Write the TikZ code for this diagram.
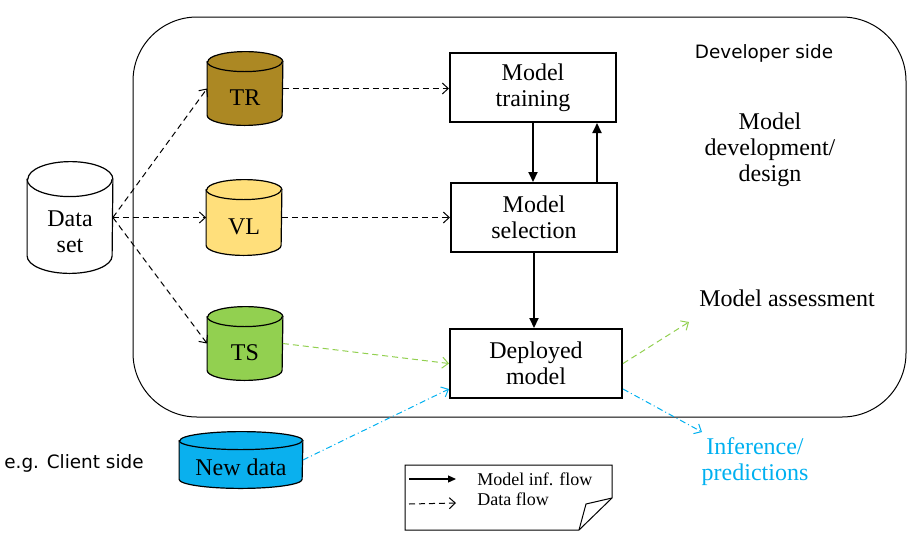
\documentclass[tikz,border=0pt]{standalone}
\usepackage{fontspec}
\setmainfont{Liberation Serif}
\newfontfamily\sidefont{DejaVu Sans}
\usepackage{tikz}
\usetikzlibrary{arrows.meta}
\usepackage{xcolor}
\definecolor{trcol}{HTML}{AC8823}
\definecolor{vlcol}{HTML}{FFDF7B}
\definecolor{tscol}{HTML}{92D050}
\definecolor{newcol}{HTML}{0AB0EE}
\definecolor{infcol}{HTML}{00B0F0}

\begin{document}
\begin{tikzpicture}[x=0.5pt,y=-0.5pt,
		base/.style={inner sep=0pt,minimum width=37.5pt,minimum height=36.5pt},
		txt/.style={font=\fontsize{12}{13}\selectfont,align=center,inner sep=0pt},
		side/.style={txt,font=\sidefont\fontsize{9.2}{11}\selectfont},
		box/.style={txt,draw,line width=1pt,minimum width=83pt,minimum height=34.5pt},
		flow/.style={line width=1pt,-{Triangle[length=5pt,width=4.5pt]}},
		data/.style={line width=0.5pt,dash pattern=on 3pt off 2pt,-{Straight Barb[length=3pt,width=5.5pt]}},
		newflow/.style={line width=0.5pt,infcol,dash pattern=on 3pt off 1.5pt on 0.5pt off 1.5pt,
			-{Straight Barb[length=3pt,width=5.5pt]}}]
			\useasboundingbox (0,0) rectangle (921,542);
			\begin{scope}
				\draw[line width=0.5pt,rounded corners=32pt] (133,17) rectangle (906,417);
				\coordinate (ds) at (70,217.5);
				\coordinate (tr) at (245,88.5);
				\coordinate (vl) at (244,217.5);
				\coordinate (ts) at (245,343.5);
				\coordinate (nd) at (241,460);
				\node[base,minimum width=42.5pt,minimum height=55.5pt] (DS) at (ds) {};
				\node[base] (TR) at (tr) {};
				\node[base,minimum height=37.5pt] (VL) at (vl) {};
				\node[base] (TS) at (ts) {};
				\node[base,minimum width=61.5pt,minimum height=28pt] (ND) at (nd) {};
				\foreach \N/\c/\rx/\ry in {DS/white/21.25pt/8.75pt, TR/trcol/18.75pt/5pt,
					VL/vlcol/18.75pt/5pt, TS/tscol/18.75pt/5pt, ND/newcol/30.75pt/4.5pt}{
					\filldraw[fill=\c,line width=0.6pt] ([yshift=-\ry]\N.north west)
						-- ([yshift=\ry]\N.south west) arc[start angle=180,end angle=360,x radius=\rx,y radius=\ry]
						-- ([yshift=-\ry]\N.north east) arc[start angle=0,end angle=180,x radius=\rx,y radius=\ry]
						-- cycle;
					\draw[line width=0.6pt] ([yshift=-\ry]\N.north west)
						arc[start angle=180,end angle=360,x radius=\rx,y radius=\ry];
				}
				\node[txt] (DSt) at ([yshift=-7pt]DS.center) {Data\\set};
				\foreach \S in {TR,VL,TS}
					\node[txt] (\S t) at ([yshift=-4.5pt]\S.center) {\S};
				\node[txt] (NDt) at ([yshift=-3.5pt]ND.center) {New data};
				%
				\node[box] (train) at (533,87.5) {Model\\training};
				\node[box] (select) at (534,217.5) {Model\\selection};
				\node[box,minimum width=86pt] (deploy) at (536,363.5) {Deployed\\model};
				\draw[flow] (train.south -| 533,0) -- (select.north -| 533,0);
				\draw[flow] (select.north -| 597,0) -- (train.south -| 597,0);
				\draw[flow] (select.south -| 534,0) -- (deploy.north -| 534,0);
				%
				\foreach \E in {TR,VL,TS}
					\draw[data] (DS.east) -- (\E.west);
				\draw[data] (TR.east) -- (TR.east -| train.west);
				\draw[data] (VL.east) -- (VL.east -| select.west);
				\draw[data,tscol] (TS.east) -- (deploy.west);
				\draw[newflow] (ND.east) -- ([yshift=5pt]deploy.south west);
				%
				\node[side] (dev) at (764,53) {Developer side};
				\node[txt] (design) at (770,150) {Model\\development/\\design};
				\node[txt] (assess) at (787,298) {Model assessment};
				\node[txt,infcol] (infer) at (755,462) {Inference/\\predictions};
				\node[side] (client) at (74,463) {e.g. Client side};
				\coordinate (assessin) at (689,322);
				\coordinate (inferin) at (702,432);
				\draw[data,tscol] (deploy.east) -- (assessin);
				\draw[newflow] ([yshift=5pt]deploy.south east) -- (inferin);
			\end{scope}
			\begin{scope}
				\coordinate (L1) at (405,465);
				\coordinate (L2) at (612,465);
				\coordinate (L3) at (612,498);
				\coordinate (L4) at (579,530);
				\coordinate (L5) at (405,530);
				\coordinate (L6) at (586,504);
				\draw[line width=0.5pt] (L1) -- (L2) -- (L3) -- (L4) -- (L5) -- cycle;
				\draw[line width=0.5pt] (L4) -- (L6) -- (L3);
				\coordinate (a1) at (409,479);
				\coordinate (b1) at (456,479);
				\coordinate (a2) at (409,504);
				\coordinate (b2) at (456,503);
				\draw[line width=0.6pt,-{Triangle[length=4pt,width=3.5pt]}] (a1) -- (b1);
				\draw[data] (a2) -- (b2);
				\node[txt,anchor=west,font=\fontsize{9}{10}\selectfont] (k1) at (477,479) {Model inf. flow};
				\node[txt,anchor=west,font=\fontsize{9}{10}\selectfont] (k2) at (477,499) {Data flow};
			\end{scope}
		\end{tikzpicture}
\end{document}
